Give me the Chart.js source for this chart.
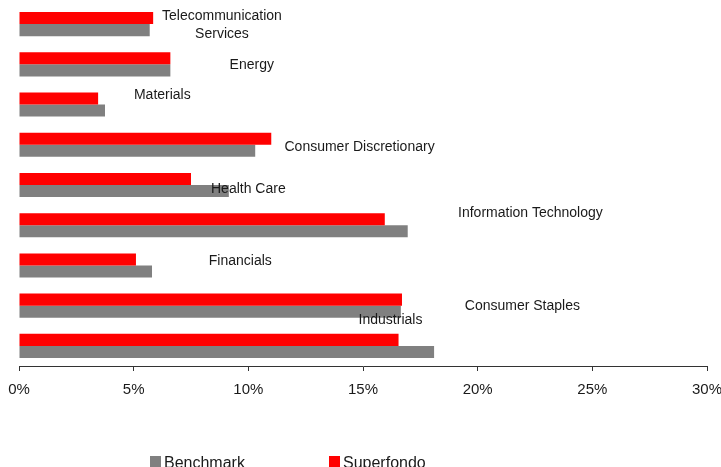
<!DOCTYPE html>
<html>
<head>
<meta charset="utf-8">
<script src="https://cdn.jsdelivr.net/npm/chart.js@4/dist/chart.umd.min.js"></script>
<style>
  body { margin: 0; background: #fff; }
  #box { width: 721px; height: 467px; }
</style>
</head>
<body>
<div id="box"><canvas id="barChart" width="721" height="467"></canvas></div>
<script>
// settori, dall'alto verso il basso
const settori = [
    ['Telecommunication', 'Services'],
    'Energy',
    'Materials',
    'Consumer Discretionary',
    'Health Care',
    'Information Technology',
    'Financials',
    'Consumer Staples',
    'Industrials'
];

// pesi in %
const superfondo = [5.85, 6.6, 3.45, 11.0, 7.5, 15.95, 5.1, 16.7, 16.55];
const benchmark  = [5.7, 6.6, 3.75, 10.3, 9.15, 16.95, 5.8, 16.65, 18.1];

const tickX = [0, 5, 10, 15, 20, 25, 30];

// dove cadono le etichette dei settori: [x in %, spostamento verticale in px]
const posEtichette = [
    [8.85, 1.5], [10.15, 1], [6.25, -9], [14.85, 2], [10.0, 4],
    [22.3, -12], [9.65, -4], [21.95, 0], [16.2, -26]
];

const FONT = '"Liberation Sans", Arial, sans-serif';

const etichette = {
    id: 'etichette',
    afterDatasetsDraw(chart) {
        const { ctx, scales: { x, y } } = chart;
        ctx.save();
        ctx.font = '14px ' + FONT;
        ctx.fillStyle = '#1a1a1a';
        ctx.textAlign = 'center';
        ctx.textBaseline = 'middle';
        settori.forEach((nome, i) => {
            const righe = [].concat(nome);
            const cx = x.getPixelForValue(posEtichette[i][0]);
            const cy = y.getPixelForValue(i) + posEtichette[i][1];
            righe.forEach((r, k) => {
                ctx.fillText(r, cx, cy + (k - (righe.length - 1) / 2) * 18);
            });
        });

        // legenda in basso, benchmark per primo
        ctx.font = '16px ' + FONT;
        ctx.textAlign = 'left';
        ctx.textBaseline = 'alphabetic';
        const voci = chart.data.datasets.slice().reverse();
        const posX = [150, 329];
        voci.forEach((ds, k) => {
            ctx.fillStyle = ds.backgroundColor;
            ctx.fillRect(posX[k], 456, 11, 12);
            ctx.fillStyle = '#1a1a1a';
            ctx.fillText(ds.label, posX[k] + 14, 468);
        });
        ctx.restore();
    }
};

new Chart(document.getElementById('barChart'), {
    type: 'bar',
    data: {
        labels: settori,
        datasets: [
            { label: 'Superfondo', data: superfondo, backgroundColor: '#ff0000' },
            { label: 'Benchmark', data: benchmark, backgroundColor: '#808080' }
        ]
    },
    options: {
        indexAxis: 'y',
        responsive: false,
        animation: false,
        datasets: { bar: { categoryPercentage: 0.6, barPercentage: 1.0 } },
        layout: { padding: { left: 19, right: 14, top: 4, bottom: 71 } },
        plugins: {
            legend: { display: false },
            tooltip: { enabled: false }
        },
        scales: {
            y: { display: false },
            x: {
                min: 0,
                max: 30,
                afterBuildTicks(scale) {
                    scale.ticks = tickX.map(v => ({ value: v }));
                },
                afterFit(scale) {
                    scale.paddingLeft = 0;
                    scale.paddingRight = 0;
                    scale.height = 30;
                },
                border: { display: true, color: '#333', width: 1 },
                grid: { drawOnChartArea: false, drawTicks: true, tickLength: 5, color: '#333' },
                ticks: {
                    padding: 10,
                    color: '#1a1a1a',
                    font: { family: FONT, size: 15 },
                    callback: v => v + '%'
                }
            }
        }
    },
    plugins: [etichette]
});
</script>
</body>
</html>
